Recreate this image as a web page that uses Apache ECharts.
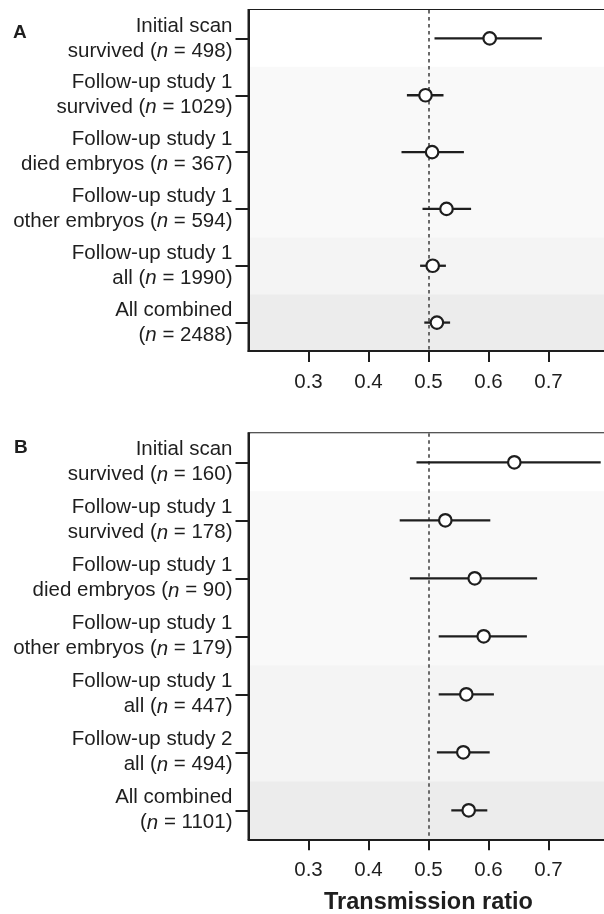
<!DOCTYPE html>
<html>
<head>
<meta charset="utf-8">
<script src="https://cdn.jsdelivr.net/npm/echarts@6/dist/echarts.min.js"></script>
<style>
  html, body { margin: 0; padding: 0; background: #fff; }
  #chart { width: 604px; height: 914px; }
</style>
</head>
<body>
<div id="chart"></div>
<script>
// Panel A: first line / second line / n (n shown in italics)
const labelsA = [
  ['Initial scan', 'survived', '498'],
  ['Follow-up study 1', 'survived', '1029'],
  ['Follow-up study 1', 'died embryos', '367'],
  ['Follow-up study 1', 'other embryos', '594'],
  ['Follow-up study 1', 'all', '1990'],
  ['All combined', '', '2488']
];
const ratioA = [0.602, 0.495, 0.506, 0.530, 0.507, 0.514];
const lowA   = [0.510, 0.464, 0.455, 0.490, 0.486, 0.493];
const highA  = [0.689, 0.525, 0.559, 0.571, 0.529, 0.536];

// Panel B
const labelsB = [
  ['Initial scan', 'survived', '160'],
  ['Follow-up study 1', 'survived', '178'],
  ['Follow-up study 1', 'died embryos', '90'],
  ['Follow-up study 1', 'other embryos', '179'],
  ['Follow-up study 1', 'all', '447'],
  ['Follow-up study 2', 'all', '494'],
  ['All combined', '', '1101']
];
const ratioB = [0.643, 0.528, 0.577, 0.592, 0.563, 0.558, 0.567];
const lowB   = [0.480, 0.452, 0.469, 0.517, 0.517, 0.514, 0.538];
const highB  = [0.787, 0.603, 0.681, 0.664, 0.609, 0.602, 0.598];

const bandsA = ['#ffffff', '#f9f9f9', '#f9f9f9', '#f9f9f9', '#f4f4f4', '#ececec'];
const bandsB = ['#ffffff', '#f9f9f9', '#f9f9f9', '#f9f9f9', '#f4f4f4', '#f4f4f4', '#ececec'];
const xTicks = [0.3, 0.4, 0.5, 0.6, 0.7];

const ink = '#1e1e1e';
const font = 'Liberation Sans, Arial, sans-serif';
const fs = 20.5;

const chart = echarts.init(document.getElementById('chart'), null, { renderer: 'canvas' });

function labelFmt(labels) {
  return function (v) {
    const l = labels[+v];
    if (l[1]) return l[0] + '\n' + l[1] + ' ({i|n} = ' + l[2] + ')';
    return l[0] + '\n({i|n} = ' + l[2] + ')';
  };
}

function yAxisFor(idx, labels, bands) {
  return {
    type: 'category',
    gridIndex: idx,
    inverse: true,
    data: labels.map((l, i) => String(i)),
    axisLine: { show: true, lineStyle: { color: ink, width: 2 } },
    axisTick: { show: true, length: 13, lineStyle: { color: ink, width: 2 }, alignWithLabel: true },
    axisLabel: {
      formatter: labelFmt(labels),
      color: ink, fontSize: fs, fontFamily: font, lineHeight: 25,
      align: 'right', margin: 16,
      rich: { i: { fontStyle: 'italic', fontSize: fs, fontFamily: font, color: ink, lineHeight: 25 } }
    },
    splitLine: { show: false },
    splitArea: { show: true, areaStyle: { color: bands } }
  };
}

function xAxisFor(idx, withName) {
  return {
    type: 'value',
    gridIndex: idx,
    min: 0.2, max: 0.8, interval: 0.1,
    axisLine: { show: true, lineStyle: { color: ink, width: 2 } },
    axisTick: { show: true, length: 11, lineStyle: { color: ink, width: 2 }, customValues: xTicks },
    axisLabel: {
      color: ink, fontSize: fs, fontFamily: font, margin: 21,
      customValues: xTicks,
      formatter: v => v.toFixed(1)
    },
    splitLine: { show: false },
    name: withName ? 'Transmission ratio' : '',
    nameLocation: 'middle',
    nameGap: 51,
    nameTextStyle: { color: ink, fontSize: 23.5, fontWeight: 'bold', fontFamily: font }
  };
}

function barSeries(idx, low, high) {
  return {
    type: 'custom',
    xAxisIndex: idx, yAxisIndex: idx,
    data: low.map((l, i) => [l, high[i], i]),
    z: 3,
    renderItem: function (params, api) {
      const a = api.coord([api.value(0), api.value(2)]);
      const b = api.coord([api.value(1), api.value(2)]);
      return {
        type: 'line',
        shape: { x1: a[0], y1: a[1], x2: b[0], y2: b[1] },
        style: { stroke: ink, lineWidth: 2.3 }
      };
    }
  };
}

function pointSeries(idx, ratio) {
  return {
    type: 'scatter',
    xAxisIndex: idx, yAxisIndex: idx,
    data: ratio.map((r, i) => [r, i]),
    symbol: 'circle', symbolSize: 12.5,
    itemStyle: { color: '#fff', borderColor: ink, borderWidth: 2.2, opacity: 1 },
    z: 4,
    markLine: {
      silent: true, symbol: 'none',
      label: { show: false },
      lineStyle: { color: '#6a6a6a', type: [3.5, 3.5], width: 2 },
      data: [{ xAxis: 0.5 }],
      z: 2
    }
  };
}

chart.setOption({
  animation: false,
  backgroundColor: '#fff',
  title: [
    { text: 'A', left: 13, top: 23, padding: 0, textStyle: { fontSize: 19, fontWeight: 'bold', color: ink, fontFamily: font } },
    { text: 'B', left: 14, top: 438, padding: 0, textStyle: { fontSize: 19, fontWeight: 'bold', color: ink, fontFamily: font } }
  ],
  grid: [
    { left: 248.5, right: -4.5, top: 10, height: 341, outerBoundsMode: 'none', containLabel: false,
      show: true, borderColor: ink, borderWidth: 2, backgroundColor: 'transparent' },
    { left: 248.5, right: -4.5, top: 433.3, height: 406, outerBoundsMode: 'none', containLabel: false,
      show: true, borderColor: ink, borderWidth: 2, backgroundColor: 'transparent' }
  ],
  xAxis: [xAxisFor(0, false), xAxisFor(1, true)],
  yAxis: [yAxisFor(0, labelsA, bandsA), yAxisFor(1, labelsB, bandsB)],
  series: [
    barSeries(0, lowA, highA),
    pointSeries(0, ratioA),
    barSeries(1, lowB, highB),
    pointSeries(1, ratioB)
  ]
});
</script>
</body>
</html>
